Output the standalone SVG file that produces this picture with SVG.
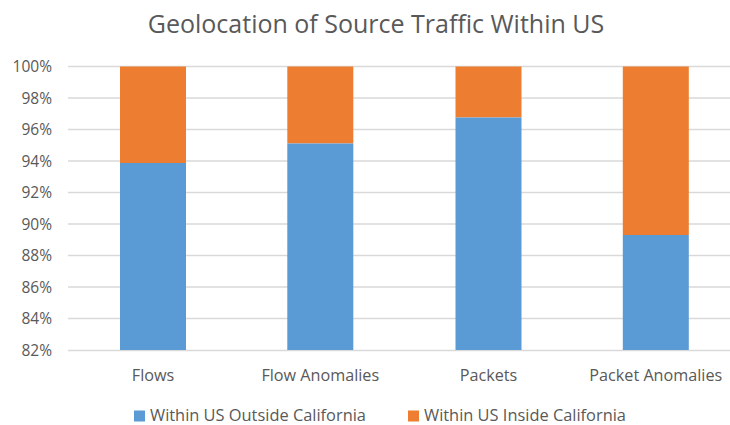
<svg xmlns="http://www.w3.org/2000/svg" width="730" height="425" viewBox="0 0 730 425">
<style>
text{font-family:"Open Sans","Noto Sans","Liberation Sans",sans-serif;fill:#595959}
.t{font-size:25px;text-anchor:middle}
.y{font-size:15.5px;text-anchor:end}
.x{font-size:16.2px;text-anchor:middle}
.l{font-size:16.4px}
.g{stroke:#d9d9d9;stroke-width:1.5}
.b{fill:#5b9bd5}
.o{fill:#ed7d31}
</style>
<rect width="730" height="425" fill="#fff"/>
<text class="t" x="376" y="32.5">Geolocation of Source Traffic Within US</text>
<g id="grid">
<line class="g" x1="68" y1="66.5" x2="730" y2="66.5"/>
<line class="g" x1="68" y1="98" x2="730" y2="98"/>
<line class="g" x1="68" y1="129.5" x2="730" y2="129.5"/>
<line class="g" x1="68" y1="161" x2="730" y2="161"/>
<line class="g" x1="68" y1="192.5" x2="730" y2="192.5"/>
<line class="g" x1="68" y1="224" x2="730" y2="224"/>
<line class="g" x1="68" y1="255.5" x2="730" y2="255.5"/>
<line class="g" x1="68" y1="287" x2="730" y2="287"/>
<line class="g" x1="68" y1="318.5" x2="730" y2="318.5"/>
<line class="g" x1="68" y1="350.5" x2="730" y2="350.5"/>
</g>
<g id="yaxis">
<text class="y" x="52" y="72">100%</text>
<text class="y" x="52" y="103.5">98%</text>
<text class="y" x="52" y="135">96%</text>
<text class="y" x="52" y="166.5">94%</text>
<text class="y" x="52" y="198">92%</text>
<text class="y" x="52" y="229.5">90%</text>
<text class="y" x="52" y="261">88%</text>
<text class="y" x="52" y="292.5">86%</text>
<text class="y" x="52" y="324">84%</text>
<text class="y" x="52" y="356">82%</text>
</g>
<g id="bar-flows">
<rect class="o" x="120" y="66.5" width="66" height="96.5"/>
<rect class="b" x="120" y="163" width="66" height="187"/>
<text class="x" x="153" y="381">Flows</text>
</g>
<g id="bar-flow-anomalies">
<rect class="o" x="287.3" y="66.5" width="66" height="77"/>
<rect class="b" x="287.3" y="143.5" width="66" height="206.5"/>
<text class="x" x="320.3" y="381">Flow Anomalies</text>
</g>
<g id="bar-packets">
<rect class="o" x="455.5" y="66.5" width="66" height="51"/>
<rect class="b" x="455.5" y="117.5" width="66" height="232.5"/>
<text class="x" x="488.5" y="381">Packets</text>
</g>
<g id="bar-packet-anomalies">
<rect class="o" x="622.8" y="66.5" width="66" height="168.5"/>
<rect class="b" x="622.8" y="235" width="66" height="115"/>
<text class="x" x="655.8" y="381">Packet Anomalies</text>
</g>
<g id="legend">
<rect class="b" x="134" y="410.5" width="11" height="11"/>
<text class="l" x="150" y="420.5">Within US Outside California</text>
<rect class="o" x="408" y="410.5" width="11" height="11"/>
<text class="l" x="424" y="420.5">Within US Inside California</text>
</g>
</svg>
